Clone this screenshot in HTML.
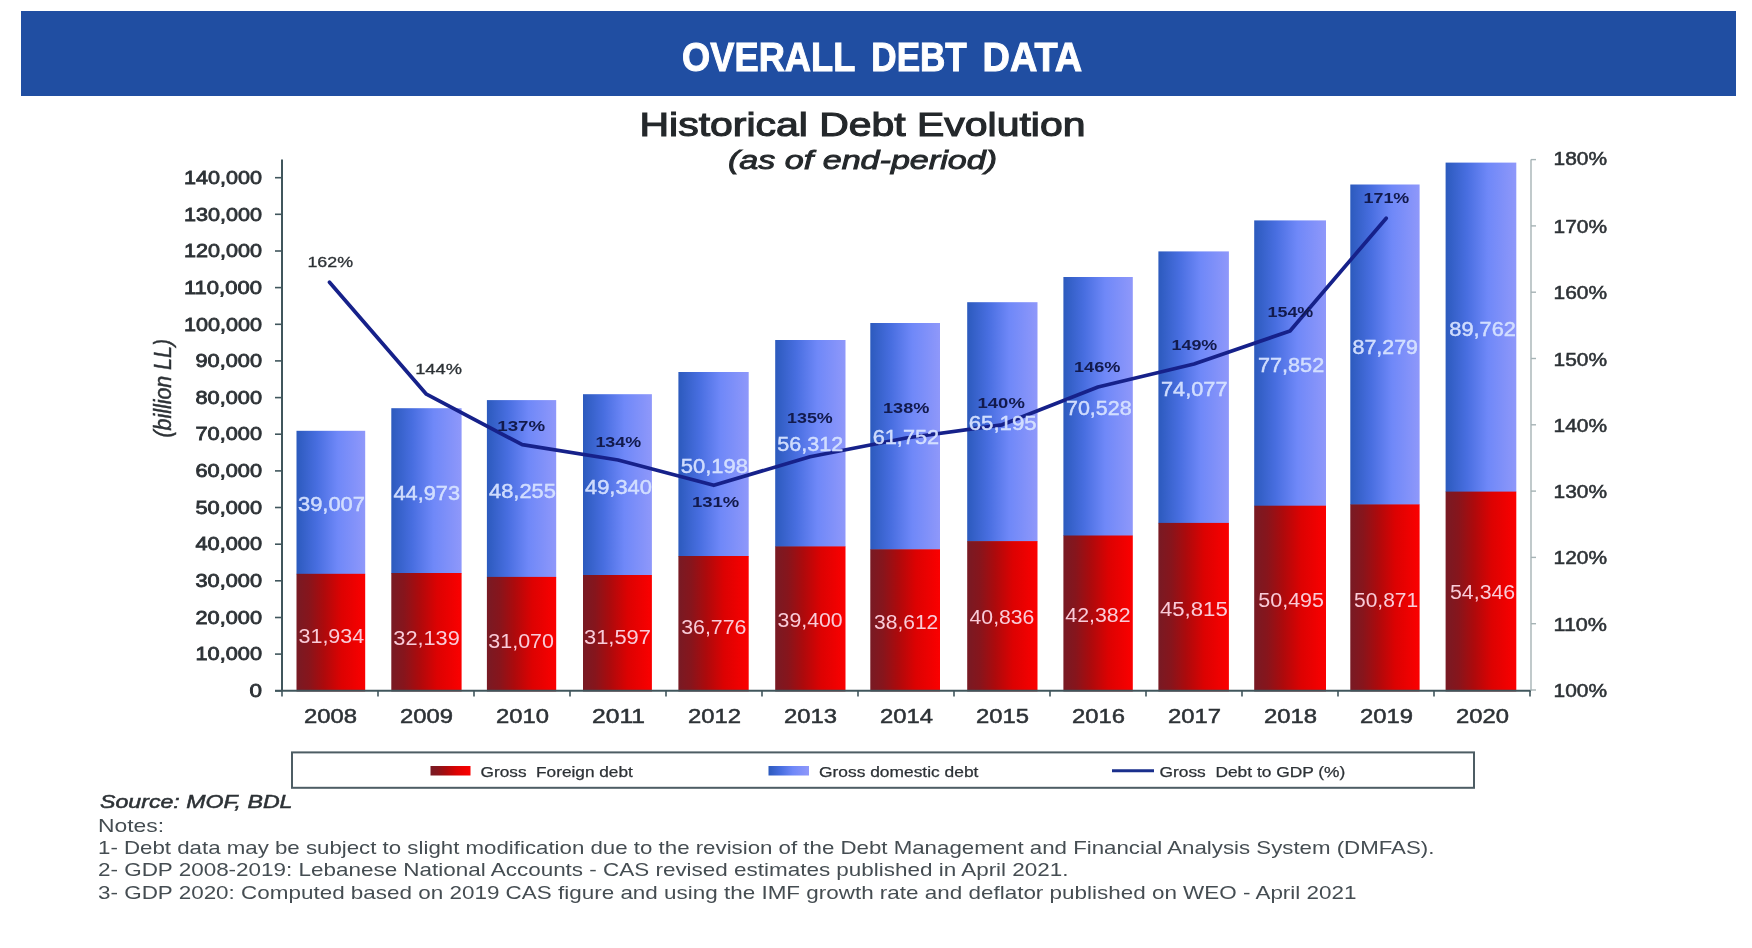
<!DOCTYPE html>
<html lang="en"><head><meta charset="utf-8"><title>Overall Debt Data</title>
<style>
html,body{margin:0;padding:0;background:#fff;}
body{width:1752px;height:948px;overflow:hidden;font-family:"Liberation Sans",sans-serif;}
svg{display:block;}
text{font-family:"Liberation Sans",sans-serif;}
</style></head><body>
<svg width="1752" height="948" viewBox="0 0 1752 948">
<defs>
<linearGradient id="gb" x1="0" y1="0" x2="1" y2="0">
<stop offset="0" stop-color="#2c5abd"/><stop offset="0.3" stop-color="#486ee0"/><stop offset="0.6" stop-color="#6f88f8"/><stop offset="1" stop-color="#8f98fa"/>
</linearGradient>
<linearGradient id="gr" x1="0" y1="0" x2="1" y2="0">
<stop offset="0" stop-color="#781a24"/><stop offset="0.18" stop-color="#87151c"/><stop offset="0.4" stop-color="#ad0a0c"/><stop offset="0.65" stop-color="#dc0202"/><stop offset="1" stop-color="#fb0000"/>
</linearGradient>
<filter id="soft" color-interpolation-filters="sRGB" x="-2%" y="-2%" width="104%" height="104%"><feGaussianBlur stdDeviation="0.5"/></filter>
</defs>
<rect x="0" y="0" width="1752" height="948" fill="#ffffff"/>
<g filter="url(#soft)">
<rect x="21" y="11" width="1715" height="85" fill="#204ea2"/>

<text x="682.1" y="71.3" font-size="40.5" fill="#ffffff" font-weight="bold" font-style="normal" textLength="173.2" lengthAdjust="spacingAndGlyphs" stroke="#ffffff" stroke-width="1.0">OVERALL</text>
<text x="871.3" y="71.3" font-size="40.5" fill="#ffffff" font-weight="bold" font-style="normal" textLength="95.5" lengthAdjust="spacingAndGlyphs" stroke="#ffffff" stroke-width="1.0">DEBT</text>
<text x="982.5" y="71.3" font-size="40.5" fill="#ffffff" font-weight="bold" font-style="normal" textLength="99.7" lengthAdjust="spacingAndGlyphs" stroke="#ffffff" stroke-width="1.0">DATA</text>
<text x="639.5" y="136.2" font-size="33" fill="#24282b" font-weight="normal" font-style="normal" textLength="446.0" lengthAdjust="spacingAndGlyphs" stroke="#24282b" stroke-width="1.1">Historical Debt Evolution</text>
<text x="728.0" y="168.5" font-size="26.5" fill="#24282b" font-weight="normal" font-style="italic" textLength="269.0" lengthAdjust="spacingAndGlyphs" stroke="#24282b" stroke-width="0.9">(as of end-period)</text>
<rect x="296.5" y="430.8" width="68.7" height="143.5" fill="url(#gb)"/>
<rect x="296.5" y="573.8" width="68.7" height="117.6" fill="url(#gr)"/>
<rect x="391.3" y="408.2" width="70.3" height="165.3" fill="url(#gb)"/>
<rect x="391.3" y="573.0" width="70.3" height="118.4" fill="url(#gr)"/>
<rect x="486.9" y="400.1" width="69.3" height="177.4" fill="url(#gb)"/>
<rect x="486.9" y="576.9" width="69.3" height="114.5" fill="url(#gr)"/>
<rect x="583.0" y="394.2" width="68.9" height="181.3" fill="url(#gb)"/>
<rect x="583.0" y="575.0" width="68.9" height="116.4" fill="url(#gr)"/>
<rect x="678.4" y="372.0" width="70.3" height="184.5" fill="url(#gb)"/>
<rect x="678.4" y="556.0" width="70.3" height="135.4" fill="url(#gr)"/>
<rect x="775.2" y="340.0" width="70.3" height="206.9" fill="url(#gb)"/>
<rect x="775.2" y="546.4" width="70.3" height="145.0" fill="url(#gr)"/>
<rect x="870.3" y="323.0" width="69.7" height="226.8" fill="url(#gb)"/>
<rect x="870.3" y="549.3" width="69.7" height="142.1" fill="url(#gr)"/>
<rect x="967.2" y="302.2" width="70.3" height="239.4" fill="url(#gb)"/>
<rect x="967.2" y="541.1" width="70.3" height="150.3" fill="url(#gr)"/>
<rect x="1063.4" y="277.0" width="69.4" height="259.0" fill="url(#gb)"/>
<rect x="1063.4" y="535.5" width="69.4" height="155.9" fill="url(#gr)"/>
<rect x="1158.4" y="251.4" width="70.5" height="272.0" fill="url(#gb)"/>
<rect x="1158.4" y="522.9" width="70.5" height="168.5" fill="url(#gr)"/>
<rect x="1254.2" y="220.4" width="71.8" height="285.8" fill="url(#gb)"/>
<rect x="1254.2" y="505.7" width="71.8" height="185.7" fill="url(#gr)"/>
<rect x="1350.3" y="184.5" width="69.3" height="320.4" fill="url(#gb)"/>
<rect x="1350.3" y="504.4" width="69.3" height="187.0" fill="url(#gr)"/>
<rect x="1445.6" y="162.6" width="70.7" height="329.5" fill="url(#gb)"/>
<rect x="1445.6" y="491.6" width="70.7" height="199.8" fill="url(#gr)"/>
<line x1="282.0" y1="159.5" x2="282.0" y2="690.8" stroke="#40565c" stroke-width="2"/>
<line x1="275" y1="690.8" x2="282.0" y2="690.8" stroke="#40565c" stroke-width="1.6"/>
<text x="249.5" y="697.0" font-size="18.6" fill="#2d3236" font-weight="normal" font-style="normal" textLength="12.5" lengthAdjust="spacingAndGlyphs" stroke="#2d3236" stroke-width="0.8">0</text>
<line x1="275" y1="654.1" x2="282.0" y2="654.1" stroke="#40565c" stroke-width="1.6"/>
<text x="195.5" y="660.4" font-size="18.6" fill="#2d3236" font-weight="normal" font-style="normal" textLength="66.5" lengthAdjust="spacingAndGlyphs" stroke="#2d3236" stroke-width="0.8">10,000</text>
<line x1="275" y1="617.5" x2="282.0" y2="617.5" stroke="#40565c" stroke-width="1.6"/>
<text x="195.5" y="623.7" font-size="18.6" fill="#2d3236" font-weight="normal" font-style="normal" textLength="66.5" lengthAdjust="spacingAndGlyphs" stroke="#2d3236" stroke-width="0.8">20,000</text>
<line x1="275" y1="580.8" x2="282.0" y2="580.8" stroke="#40565c" stroke-width="1.6"/>
<text x="195.5" y="587.0" font-size="18.6" fill="#2d3236" font-weight="normal" font-style="normal" textLength="66.5" lengthAdjust="spacingAndGlyphs" stroke="#2d3236" stroke-width="0.8">30,000</text>
<line x1="275" y1="544.2" x2="282.0" y2="544.2" stroke="#40565c" stroke-width="1.6"/>
<text x="195.5" y="550.4" font-size="18.6" fill="#2d3236" font-weight="normal" font-style="normal" textLength="66.5" lengthAdjust="spacingAndGlyphs" stroke="#2d3236" stroke-width="0.8">40,000</text>
<line x1="275" y1="507.5" x2="282.0" y2="507.5" stroke="#40565c" stroke-width="1.6"/>
<text x="195.5" y="513.8" font-size="18.6" fill="#2d3236" font-weight="normal" font-style="normal" textLength="66.5" lengthAdjust="spacingAndGlyphs" stroke="#2d3236" stroke-width="0.8">50,000</text>
<line x1="275" y1="470.9" x2="282.0" y2="470.9" stroke="#40565c" stroke-width="1.6"/>
<text x="195.5" y="477.1" font-size="18.6" fill="#2d3236" font-weight="normal" font-style="normal" textLength="66.5" lengthAdjust="spacingAndGlyphs" stroke="#2d3236" stroke-width="0.8">60,000</text>
<line x1="275" y1="434.2" x2="282.0" y2="434.2" stroke="#40565c" stroke-width="1.6"/>
<text x="195.5" y="440.4" font-size="18.6" fill="#2d3236" font-weight="normal" font-style="normal" textLength="66.5" lengthAdjust="spacingAndGlyphs" stroke="#2d3236" stroke-width="0.8">70,000</text>
<line x1="275" y1="397.6" x2="282.0" y2="397.6" stroke="#40565c" stroke-width="1.6"/>
<text x="195.5" y="403.8" font-size="18.6" fill="#2d3236" font-weight="normal" font-style="normal" textLength="66.5" lengthAdjust="spacingAndGlyphs" stroke="#2d3236" stroke-width="0.8">80,000</text>
<line x1="275" y1="360.9" x2="282.0" y2="360.9" stroke="#40565c" stroke-width="1.6"/>
<text x="195.5" y="367.1" font-size="18.6" fill="#2d3236" font-weight="normal" font-style="normal" textLength="66.5" lengthAdjust="spacingAndGlyphs" stroke="#2d3236" stroke-width="0.8">90,000</text>
<line x1="275" y1="324.3" x2="282.0" y2="324.3" stroke="#40565c" stroke-width="1.6"/>
<text x="184.0" y="330.5" font-size="18.6" fill="#2d3236" font-weight="normal" font-style="normal" textLength="78.0" lengthAdjust="spacingAndGlyphs" stroke="#2d3236" stroke-width="0.8">100,000</text>
<line x1="275" y1="287.6" x2="282.0" y2="287.6" stroke="#40565c" stroke-width="1.6"/>
<text x="184.0" y="293.8" font-size="18.6" fill="#2d3236" font-weight="normal" font-style="normal" textLength="78.0" lengthAdjust="spacingAndGlyphs" stroke="#2d3236" stroke-width="0.8">110,000</text>
<line x1="275" y1="251.0" x2="282.0" y2="251.0" stroke="#40565c" stroke-width="1.6"/>
<text x="184.0" y="257.2" font-size="18.6" fill="#2d3236" font-weight="normal" font-style="normal" textLength="78.0" lengthAdjust="spacingAndGlyphs" stroke="#2d3236" stroke-width="0.8">120,000</text>
<line x1="275" y1="214.3" x2="282.0" y2="214.3" stroke="#40565c" stroke-width="1.6"/>
<text x="184.0" y="220.5" font-size="18.6" fill="#2d3236" font-weight="normal" font-style="normal" textLength="78.0" lengthAdjust="spacingAndGlyphs" stroke="#2d3236" stroke-width="0.8">130,000</text>
<line x1="275" y1="177.7" x2="282.0" y2="177.7" stroke="#40565c" stroke-width="1.6"/>
<text x="184.0" y="183.9" font-size="18.6" fill="#2d3236" font-weight="normal" font-style="normal" textLength="78.0" lengthAdjust="spacingAndGlyphs" stroke="#2d3236" stroke-width="0.8">140,000</text>
<line x1="275" y1="690.8" x2="1531" y2="690.8" stroke="#40565c" stroke-width="2"/>
<line x1="282.0" y1="690.8" x2="282.0" y2="696.5" stroke="#40565c" stroke-width="1.6"/>
<line x1="378.0" y1="690.8" x2="378.0" y2="696.5" stroke="#40565c" stroke-width="1.6"/>
<line x1="474.0" y1="690.8" x2="474.0" y2="696.5" stroke="#40565c" stroke-width="1.6"/>
<line x1="570.0" y1="690.8" x2="570.0" y2="696.5" stroke="#40565c" stroke-width="1.6"/>
<line x1="666.0" y1="690.8" x2="666.0" y2="696.5" stroke="#40565c" stroke-width="1.6"/>
<line x1="762.0" y1="690.8" x2="762.0" y2="696.5" stroke="#40565c" stroke-width="1.6"/>
<line x1="858.0" y1="690.8" x2="858.0" y2="696.5" stroke="#40565c" stroke-width="1.6"/>
<line x1="954.0" y1="690.8" x2="954.0" y2="696.5" stroke="#40565c" stroke-width="1.6"/>
<line x1="1050.0" y1="690.8" x2="1050.0" y2="696.5" stroke="#40565c" stroke-width="1.6"/>
<line x1="1146.0" y1="690.8" x2="1146.0" y2="696.5" stroke="#40565c" stroke-width="1.6"/>
<line x1="1242.0" y1="690.8" x2="1242.0" y2="696.5" stroke="#40565c" stroke-width="1.6"/>
<line x1="1338.0" y1="690.8" x2="1338.0" y2="696.5" stroke="#40565c" stroke-width="1.6"/>
<line x1="1434.0" y1="690.8" x2="1434.0" y2="696.5" stroke="#40565c" stroke-width="1.6"/>
<line x1="1530.0" y1="690.8" x2="1530.0" y2="696.5" stroke="#40565c" stroke-width="1.6"/>
<text x="304.0" y="722.8" font-size="20.5" fill="#2d3236" font-weight="normal" font-style="normal" textLength="53.0" lengthAdjust="spacingAndGlyphs" stroke="#2d3236" stroke-width="0.5">2008</text>
<text x="400.0" y="722.8" font-size="20.5" fill="#2d3236" font-weight="normal" font-style="normal" textLength="53.0" lengthAdjust="spacingAndGlyphs" stroke="#2d3236" stroke-width="0.5">2009</text>
<text x="496.0" y="722.8" font-size="20.5" fill="#2d3236" font-weight="normal" font-style="normal" textLength="53.0" lengthAdjust="spacingAndGlyphs" stroke="#2d3236" stroke-width="0.5">2010</text>
<text x="592.0" y="722.8" font-size="20.5" fill="#2d3236" font-weight="normal" font-style="normal" textLength="53.0" lengthAdjust="spacingAndGlyphs" stroke="#2d3236" stroke-width="0.5">2011</text>
<text x="688.0" y="722.8" font-size="20.5" fill="#2d3236" font-weight="normal" font-style="normal" textLength="53.0" lengthAdjust="spacingAndGlyphs" stroke="#2d3236" stroke-width="0.5">2012</text>
<text x="784.0" y="722.8" font-size="20.5" fill="#2d3236" font-weight="normal" font-style="normal" textLength="53.0" lengthAdjust="spacingAndGlyphs" stroke="#2d3236" stroke-width="0.5">2013</text>
<text x="880.0" y="722.8" font-size="20.5" fill="#2d3236" font-weight="normal" font-style="normal" textLength="53.0" lengthAdjust="spacingAndGlyphs" stroke="#2d3236" stroke-width="0.5">2014</text>
<text x="976.0" y="722.8" font-size="20.5" fill="#2d3236" font-weight="normal" font-style="normal" textLength="53.0" lengthAdjust="spacingAndGlyphs" stroke="#2d3236" stroke-width="0.5">2015</text>
<text x="1072.0" y="722.8" font-size="20.5" fill="#2d3236" font-weight="normal" font-style="normal" textLength="53.0" lengthAdjust="spacingAndGlyphs" stroke="#2d3236" stroke-width="0.5">2016</text>
<text x="1168.0" y="722.8" font-size="20.5" fill="#2d3236" font-weight="normal" font-style="normal" textLength="53.0" lengthAdjust="spacingAndGlyphs" stroke="#2d3236" stroke-width="0.5">2017</text>
<text x="1264.0" y="722.8" font-size="20.5" fill="#2d3236" font-weight="normal" font-style="normal" textLength="53.0" lengthAdjust="spacingAndGlyphs" stroke="#2d3236" stroke-width="0.5">2018</text>
<text x="1360.0" y="722.8" font-size="20.5" fill="#2d3236" font-weight="normal" font-style="normal" textLength="53.0" lengthAdjust="spacingAndGlyphs" stroke="#2d3236" stroke-width="0.5">2019</text>
<text x="1456.0" y="722.8" font-size="20.5" fill="#2d3236" font-weight="normal" font-style="normal" textLength="53.0" lengthAdjust="spacingAndGlyphs" stroke="#2d3236" stroke-width="0.5">2020</text>
<line x1="1531" y1="159.5" x2="1531" y2="690.8" stroke="#a6b3b5" stroke-width="1.4"/>
<line x1="1531" y1="690.0" x2="1536" y2="690.0" stroke="#a6b3b5" stroke-width="1.4"/>
<text x="1553.5" y="697.0" font-size="18" fill="#2d3236" font-weight="normal" font-style="normal" textLength="53.5" lengthAdjust="spacingAndGlyphs" stroke="#2d3236" stroke-width="0.5">100%</text>
<line x1="1531" y1="623.7" x2="1536" y2="623.7" stroke="#a6b3b5" stroke-width="1.4"/>
<text x="1553.5" y="630.7" font-size="18" fill="#2d3236" font-weight="normal" font-style="normal" textLength="53.5" lengthAdjust="spacingAndGlyphs" stroke="#2d3236" stroke-width="0.5">110%</text>
<line x1="1531" y1="557.4" x2="1536" y2="557.4" stroke="#a6b3b5" stroke-width="1.4"/>
<text x="1553.5" y="564.4" font-size="18" fill="#2d3236" font-weight="normal" font-style="normal" textLength="53.5" lengthAdjust="spacingAndGlyphs" stroke="#2d3236" stroke-width="0.5">120%</text>
<line x1="1531" y1="491.1" x2="1536" y2="491.1" stroke="#a6b3b5" stroke-width="1.4"/>
<text x="1553.5" y="498.1" font-size="18" fill="#2d3236" font-weight="normal" font-style="normal" textLength="53.5" lengthAdjust="spacingAndGlyphs" stroke="#2d3236" stroke-width="0.5">130%</text>
<line x1="1531" y1="424.8" x2="1536" y2="424.8" stroke="#a6b3b5" stroke-width="1.4"/>
<text x="1553.5" y="431.8" font-size="18" fill="#2d3236" font-weight="normal" font-style="normal" textLength="53.5" lengthAdjust="spacingAndGlyphs" stroke="#2d3236" stroke-width="0.5">140%</text>
<line x1="1531" y1="358.5" x2="1536" y2="358.5" stroke="#a6b3b5" stroke-width="1.4"/>
<text x="1553.5" y="365.5" font-size="18" fill="#2d3236" font-weight="normal" font-style="normal" textLength="53.5" lengthAdjust="spacingAndGlyphs" stroke="#2d3236" stroke-width="0.5">150%</text>
<line x1="1531" y1="292.2" x2="1536" y2="292.2" stroke="#a6b3b5" stroke-width="1.4"/>
<text x="1553.5" y="299.2" font-size="18" fill="#2d3236" font-weight="normal" font-style="normal" textLength="53.5" lengthAdjust="spacingAndGlyphs" stroke="#2d3236" stroke-width="0.5">160%</text>
<line x1="1531" y1="225.9" x2="1536" y2="225.9" stroke="#a6b3b5" stroke-width="1.4"/>
<text x="1553.5" y="232.9" font-size="18" fill="#2d3236" font-weight="normal" font-style="normal" textLength="53.5" lengthAdjust="spacingAndGlyphs" stroke="#2d3236" stroke-width="0.5">170%</text>
<line x1="1531" y1="159.6" x2="1536" y2="159.6" stroke="#a6b3b5" stroke-width="1.4"/>
<text x="1553.5" y="165.0" font-size="18" fill="#2d3236" font-weight="normal" font-style="normal" textLength="53.5" lengthAdjust="spacingAndGlyphs" stroke="#2d3236" stroke-width="0.5">180%</text>
<text transform="translate(170.6,437.6) rotate(-90)" font-size="23" font-style="italic" fill="#2d3236" stroke="#2d3236" stroke-width="0.45" textLength="98.6" lengthAdjust="spacingAndGlyphs">(billion LL)</text>
<polyline fill="none" stroke="#16218a" stroke-width="3.7" stroke-linejoin="round" stroke-linecap="round" points="329.5,282.2 426.4,394.2 522.2,444.7 618.0,460.0 713.8,485.3 810.0,456.7 906.0,438.0 1002.0,424.8 1098.0,387.0 1194.0,364.0 1290.0,331.0 1386.2,218.2"/>
<text x="307.4" y="267.2" font-size="14.5" fill="#2d3236" font-weight="normal" font-style="normal" textLength="45.6" lengthAdjust="spacingAndGlyphs" stroke="#2d3236" stroke-width="0.3">162%</text>
<text x="415.2" y="373.5" font-size="14.5" fill="#2d3236" font-weight="normal" font-style="normal" textLength="46.7" lengthAdjust="spacingAndGlyphs" stroke="#2d3236" stroke-width="0.3">144%</text>
<text x="497.3" y="430.5" font-size="14.5" fill="#121a4c" font-weight="bold" font-style="normal" textLength="47.9" lengthAdjust="spacingAndGlyphs" >137%</text>
<text x="595.4" y="446.8" font-size="14.5" fill="#121a4c" font-weight="bold" font-style="normal" textLength="45.8" lengthAdjust="spacingAndGlyphs" >134%</text>
<text x="691.9" y="506.9" font-size="14.5" fill="#121a4c" font-weight="bold" font-style="normal" textLength="47.3" lengthAdjust="spacingAndGlyphs" >131%</text>
<text x="787.0" y="422.7" font-size="14.5" fill="#121a4c" font-weight="bold" font-style="normal" textLength="45.8" lengthAdjust="spacingAndGlyphs" >135%</text>
<text x="883.0" y="413.3" font-size="14.5" fill="#121a4c" font-weight="bold" font-style="normal" textLength="46.4" lengthAdjust="spacingAndGlyphs" >138%</text>
<text x="977.6" y="408.0" font-size="14.5" fill="#121a4c" font-weight="bold" font-style="normal" textLength="47.2" lengthAdjust="spacingAndGlyphs" >140%</text>
<text x="1074.0" y="372.1" font-size="14.5" fill="#121a4c" font-weight="bold" font-style="normal" textLength="46.4" lengthAdjust="spacingAndGlyphs" >146%</text>
<text x="1171.5" y="349.7" font-size="14.5" fill="#121a4c" font-weight="bold" font-style="normal" textLength="45.8" lengthAdjust="spacingAndGlyphs" >149%</text>
<text x="1267.5" y="316.6" font-size="14.5" fill="#121a4c" font-weight="bold" font-style="normal" textLength="45.8" lengthAdjust="spacingAndGlyphs" >154%</text>
<text x="1363.5" y="202.8" font-size="14.5" fill="#121a4c" font-weight="bold" font-style="normal" textLength="45.8" lengthAdjust="spacingAndGlyphs" >171%</text>
<text x="298.0" y="511.2" font-size="19.5" fill="#d6e2ff" font-weight="normal" font-style="normal" textLength="67.0" lengthAdjust="spacingAndGlyphs" stroke="#d6e2ff" stroke-width="0.4" fill-opacity="0.95">39,007</text>
<text x="393.5" y="500.0" font-size="19.5" fill="#d6e2ff" font-weight="normal" font-style="normal" textLength="66.5" lengthAdjust="spacingAndGlyphs" stroke="#d6e2ff" stroke-width="0.4" fill-opacity="0.95">44,973</text>
<text x="489.0" y="497.6" font-size="19.5" fill="#d6e2ff" font-weight="normal" font-style="normal" textLength="67.0" lengthAdjust="spacingAndGlyphs" stroke="#d6e2ff" stroke-width="0.4" fill-opacity="0.95">48,255</text>
<text x="585.0" y="494.0" font-size="19.5" fill="#d6e2ff" font-weight="normal" font-style="normal" textLength="67.0" lengthAdjust="spacingAndGlyphs" stroke="#d6e2ff" stroke-width="0.4" fill-opacity="0.95">49,340</text>
<text x="680.7" y="473.0" font-size="19.5" fill="#d6e2ff" font-weight="normal" font-style="normal" textLength="67.3" lengthAdjust="spacingAndGlyphs" stroke="#d6e2ff" stroke-width="0.4" fill-opacity="0.95">50,198</text>
<text x="777.3" y="450.8" font-size="19.5" fill="#d6e2ff" font-weight="normal" font-style="normal" textLength="65.9" lengthAdjust="spacingAndGlyphs" stroke="#d6e2ff" stroke-width="0.4" fill-opacity="0.95">56,312</text>
<text x="872.7" y="444.0" font-size="19.5" fill="#d6e2ff" font-weight="normal" font-style="normal" textLength="66.5" lengthAdjust="spacingAndGlyphs" stroke="#d6e2ff" stroke-width="0.4" fill-opacity="0.95">61,752</text>
<text x="968.7" y="430.1" font-size="19.5" fill="#d6e2ff" font-weight="normal" font-style="normal" textLength="68.0" lengthAdjust="spacingAndGlyphs" stroke="#d6e2ff" stroke-width="0.4" fill-opacity="0.95">65,195</text>
<text x="1066.0" y="414.7" font-size="19.5" fill="#d6e2ff" font-weight="normal" font-style="normal" textLength="65.6" lengthAdjust="spacingAndGlyphs" stroke="#d6e2ff" stroke-width="0.4" fill-opacity="0.95">70,528</text>
<text x="1161.0" y="396.3" font-size="19.5" fill="#d6e2ff" font-weight="normal" font-style="normal" textLength="66.6" lengthAdjust="spacingAndGlyphs" stroke="#d6e2ff" stroke-width="0.4" fill-opacity="0.95">74,077</text>
<text x="1258.0" y="371.5" font-size="19.5" fill="#d6e2ff" font-weight="normal" font-style="normal" textLength="66.2" lengthAdjust="spacingAndGlyphs" stroke="#d6e2ff" stroke-width="0.4" fill-opacity="0.95">77,852</text>
<text x="1352.6" y="353.5" font-size="19.5" fill="#d6e2ff" font-weight="normal" font-style="normal" textLength="65.4" lengthAdjust="spacingAndGlyphs" stroke="#d6e2ff" stroke-width="0.4" fill-opacity="0.95">87,279</text>
<text x="1449.3" y="336.4" font-size="19.5" fill="#d6e2ff" font-weight="normal" font-style="normal" textLength="66.7" lengthAdjust="spacingAndGlyphs" stroke="#d6e2ff" stroke-width="0.4" fill-opacity="0.95">89,762</text>
<text x="298.5" y="642.8" font-size="19.5" fill="#f9cbd8" font-weight="normal" font-style="normal" textLength="65.7" lengthAdjust="spacingAndGlyphs" >31,934</text>
<text x="393.3" y="645.0" font-size="19.5" fill="#f9cbd8" font-weight="normal" font-style="normal" textLength="66.5" lengthAdjust="spacingAndGlyphs" >32,139</text>
<text x="488.3" y="648.0" font-size="19.5" fill="#f9cbd8" font-weight="normal" font-style="normal" textLength="65.7" lengthAdjust="spacingAndGlyphs" >31,070</text>
<text x="584.0" y="643.6" font-size="19.5" fill="#f9cbd8" font-weight="normal" font-style="normal" textLength="67.0" lengthAdjust="spacingAndGlyphs" >31,597</text>
<text x="681.2" y="633.5" font-size="19.5" fill="#f9cbd8" font-weight="normal" font-style="normal" textLength="65.3" lengthAdjust="spacingAndGlyphs" >36,776</text>
<text x="777.6" y="627.1" font-size="19.5" fill="#f9cbd8" font-weight="normal" font-style="normal" textLength="65.0" lengthAdjust="spacingAndGlyphs" >39,400</text>
<text x="874.0" y="629.1" font-size="19.5" fill="#f9cbd8" font-weight="normal" font-style="normal" textLength="64.3" lengthAdjust="spacingAndGlyphs" >38,612</text>
<text x="969.6" y="624.2" font-size="19.5" fill="#f9cbd8" font-weight="normal" font-style="normal" textLength="64.8" lengthAdjust="spacingAndGlyphs" >40,836</text>
<text x="1065.3" y="622.0" font-size="19.5" fill="#f9cbd8" font-weight="normal" font-style="normal" textLength="65.2" lengthAdjust="spacingAndGlyphs" >42,382</text>
<text x="1159.9" y="615.7" font-size="19.5" fill="#f9cbd8" font-weight="normal" font-style="normal" textLength="67.9" lengthAdjust="spacingAndGlyphs" >45,815</text>
<text x="1258.3" y="606.5" font-size="19.5" fill="#f9cbd8" font-weight="normal" font-style="normal" textLength="65.7" lengthAdjust="spacingAndGlyphs" >50,495</text>
<text x="1354.0" y="606.5" font-size="19.5" fill="#f9cbd8" font-weight="normal" font-style="normal" textLength="64.2" lengthAdjust="spacingAndGlyphs" >50,871</text>
<text x="1450.0" y="599.4" font-size="19.5" fill="#f9cbd8" font-weight="normal" font-style="normal" textLength="65.2" lengthAdjust="spacingAndGlyphs" >54,346</text>
<rect x="292" y="752.4" width="1182" height="35.4" fill="#ffffff" stroke="#4d5d64" stroke-width="2"/>
<rect x="430.5" y="766" width="40" height="9.5" fill="url(#gr)"/>
<text x="480.6" y="776.7" font-size="14.5" fill="#2d3236" font-weight="normal" font-style="normal" textLength="152.2" lengthAdjust="spacingAndGlyphs" stroke="#2d3236" stroke-width="0.25" xml:space="preserve">Gross&#160; Foreign debt</text>
<rect x="768.5" y="766" width="40.5" height="9.5" fill="url(#gb)"/>
<text x="819.0" y="776.7" font-size="14.5" fill="#2d3236" font-weight="normal" font-style="normal" textLength="159.4" lengthAdjust="spacingAndGlyphs" stroke="#2d3236" stroke-width="0.25">Gross domestic debt</text>
<line x1="1112" y1="770.8" x2="1154" y2="770.8" stroke="#1a2f8c" stroke-width="3"/>
<text x="1159.5" y="776.7" font-size="14.5" fill="#2d3236" font-weight="normal" font-style="normal" textLength="185.8" lengthAdjust="spacingAndGlyphs" stroke="#2d3236" stroke-width="0.25" xml:space="preserve">Gross&#160; Debt to GDP (%)</text>
<text x="100.0" y="807.8" font-size="18" fill="#2d3236" font-weight="normal" font-style="italic" textLength="192.5" lengthAdjust="spacingAndGlyphs" stroke="#2d3236" stroke-width="0.5">Source: MOF, BDL</text>
<text x="98.0" y="832.0" font-size="18.5" fill="#454d52" font-weight="normal" font-style="normal" textLength="66.0" lengthAdjust="spacingAndGlyphs" >Notes:</text>
<text x="98.0" y="853.5" font-size="18.5" fill="#454d52" font-weight="normal" font-style="normal" textLength="1336.4" lengthAdjust="spacingAndGlyphs" >1- Debt data may be subject to slight modification due to the revision of the Debt Management and Financial Analysis System (DMFAS).</text>
<text x="98.0" y="876.2" font-size="18.5" fill="#454d52" font-weight="normal" font-style="normal" textLength="970.5" lengthAdjust="spacingAndGlyphs" >2- GDP 2008-2019: Lebanese National Accounts - CAS revised estimates published in April 2021.</text>
<text x="98.0" y="898.5" font-size="18.5" fill="#454d52" font-weight="normal" font-style="normal" textLength="1258.5" lengthAdjust="spacingAndGlyphs" >3- GDP 2020: Computed based on 2019 CAS figure and using the IMF growth rate and deflator published on WEO - April 2021</text>
</g>
</svg></body></html>
